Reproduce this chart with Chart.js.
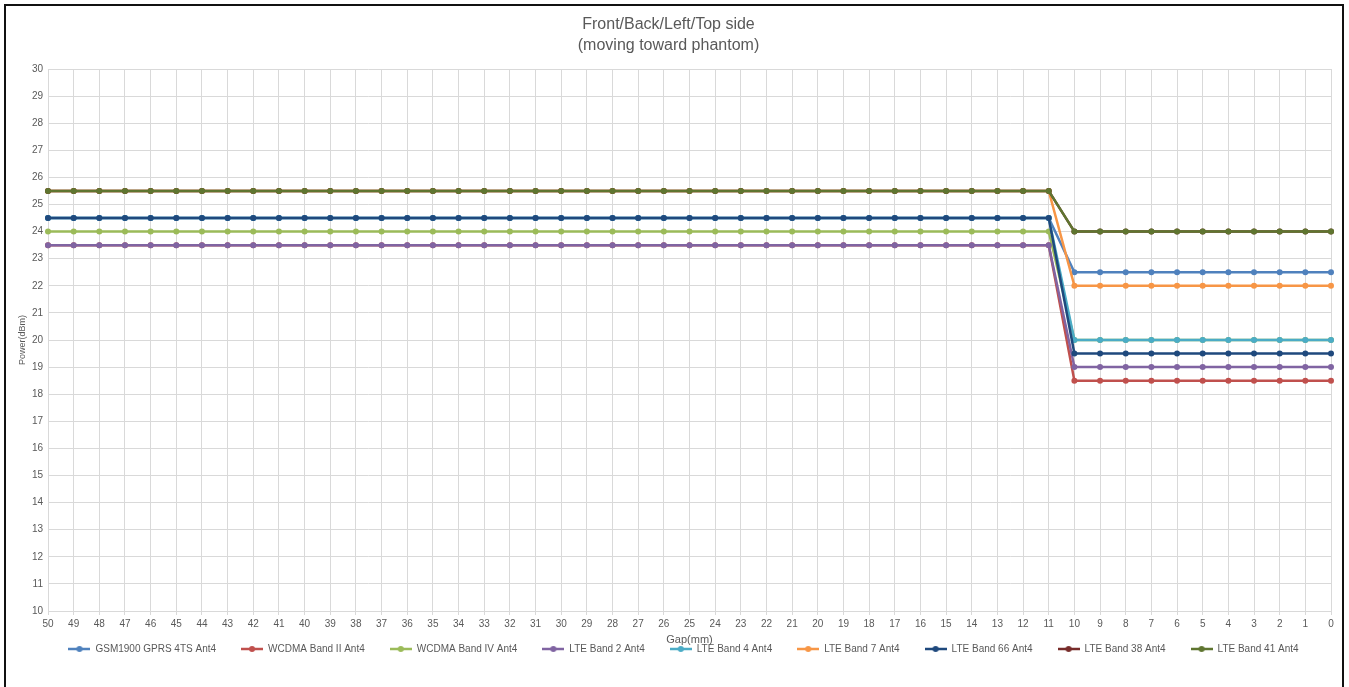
<!DOCTYPE html>
<html>
<head>
<meta charset="utf-8">
<script src="https://cdn.jsdelivr.net/npm/chart.js@4.4.1/dist/chart.umd.min.js"></script>
<style>
  html, body { margin: 0; padding: 0; background: #fff; }
  #frame {
    position: absolute; left: 4px; top: 4px;
    width: 1336px; height: 683px;
    border-left: 2px solid #111; border-top: 2px solid #111; border-right: 2px solid #111;
  }
  canvas { display: block; }
</style>
</head>
<body>
<div id="frame"><canvas id="powerChart" width="1336" height="681"></canvas></div>
<script>
const gapLabels = [
  "50", "49", "48", "47", "46", "45", "44", "43", "42", "41",
  "40", "39", "38", "37", "36", "35", "34", "33", "32", "31",
  "30", "29", "28", "27", "26", "25", "24", "23", "22", "21",
  "20", "19", "18", "17", "16", "15", "14", "13", "12", "11",
  "10", "9", "8", "7", "6", "5", "4", "3", "2", "1", "0",
];

const seriesNames = [
  "GSM1900 GPRS 4TS Ant4",
  "WCDMA Band II Ant4",
  "WCDMA Band IV Ant4",
  "LTE Band 2 Ant4",
  "LTE Band 4 Ant4",
  "LTE Band 7 Ant4",
  "LTE Band 66 Ant4",
  "LTE Band 38 Ant4",
  "LTE Band 41 Ant4",
];

const gsm1900Gprs = [
  24.5, 24.5, 24.5, 24.5, 24.5, 24.5, 24.5, 24.5, 24.5, 24.5,
  24.5, 24.5, 24.5, 24.5, 24.5, 24.5, 24.5, 24.5, 24.5, 24.5,
  24.5, 24.5, 24.5, 24.5, 24.5, 24.5, 24.5, 24.5, 24.5, 24.5,
  24.5, 24.5, 24.5, 24.5, 24.5, 24.5, 24.5, 24.5, 24.5, 24.5,
  22.5, 22.5, 22.5, 22.5, 22.5, 22.5, 22.5, 22.5, 22.5, 22.5, 22.5,
];
const wcdmaBand2 = [
  23.5, 23.5, 23.5, 23.5, 23.5, 23.5, 23.5, 23.5, 23.5, 23.5,
  23.5, 23.5, 23.5, 23.5, 23.5, 23.5, 23.5, 23.5, 23.5, 23.5,
  23.5, 23.5, 23.5, 23.5, 23.5, 23.5, 23.5, 23.5, 23.5, 23.5,
  23.5, 23.5, 23.5, 23.5, 23.5, 23.5, 23.5, 23.5, 23.5, 23.5,
  18.5, 18.5, 18.5, 18.5, 18.5, 18.5, 18.5, 18.5, 18.5, 18.5, 18.5,
];
const wcdmaBand4 = [
  24, 24, 24, 24, 24, 24, 24, 24, 24, 24,
  24, 24, 24, 24, 24, 24, 24, 24, 24, 24,
  24, 24, 24, 24, 24, 24, 24, 24, 24, 24,
  24, 24, 24, 24, 24, 24, 24, 24, 24, 24,
  20, 20, 20, 20, 20, 20, 20, 20, 20, 20, 20,
];
const lteBand2 = [
  23.5, 23.5, 23.5, 23.5, 23.5, 23.5, 23.5, 23.5, 23.5, 23.5,
  23.5, 23.5, 23.5, 23.5, 23.5, 23.5, 23.5, 23.5, 23.5, 23.5,
  23.5, 23.5, 23.5, 23.5, 23.5, 23.5, 23.5, 23.5, 23.5, 23.5,
  23.5, 23.5, 23.5, 23.5, 23.5, 23.5, 23.5, 23.5, 23.5, 23.5,
  19, 19, 19, 19, 19, 19, 19, 19, 19, 19, 19,
];
const lteBand4 = [
  24.5, 24.5, 24.5, 24.5, 24.5, 24.5, 24.5, 24.5, 24.5, 24.5,
  24.5, 24.5, 24.5, 24.5, 24.5, 24.5, 24.5, 24.5, 24.5, 24.5,
  24.5, 24.5, 24.5, 24.5, 24.5, 24.5, 24.5, 24.5, 24.5, 24.5,
  24.5, 24.5, 24.5, 24.5, 24.5, 24.5, 24.5, 24.5, 24.5, 24.5,
  20, 20, 20, 20, 20, 20, 20, 20, 20, 20, 20,
];
const lteBand7 = [
  25.5, 25.5, 25.5, 25.5, 25.5, 25.5, 25.5, 25.5, 25.5, 25.5,
  25.5, 25.5, 25.5, 25.5, 25.5, 25.5, 25.5, 25.5, 25.5, 25.5,
  25.5, 25.5, 25.5, 25.5, 25.5, 25.5, 25.5, 25.5, 25.5, 25.5,
  25.5, 25.5, 25.5, 25.5, 25.5, 25.5, 25.5, 25.5, 25.5, 25.5,
  22, 22, 22, 22, 22, 22, 22, 22, 22, 22, 22,
];
const lteBand66 = [
  24.5, 24.5, 24.5, 24.5, 24.5, 24.5, 24.5, 24.5, 24.5, 24.5,
  24.5, 24.5, 24.5, 24.5, 24.5, 24.5, 24.5, 24.5, 24.5, 24.5,
  24.5, 24.5, 24.5, 24.5, 24.5, 24.5, 24.5, 24.5, 24.5, 24.5,
  24.5, 24.5, 24.5, 24.5, 24.5, 24.5, 24.5, 24.5, 24.5, 24.5,
  19.5, 19.5, 19.5, 19.5, 19.5, 19.5, 19.5, 19.5, 19.5, 19.5, 19.5,
];
const lteBand38 = [
  25.5, 25.5, 25.5, 25.5, 25.5, 25.5, 25.5, 25.5, 25.5, 25.5,
  25.5, 25.5, 25.5, 25.5, 25.5, 25.5, 25.5, 25.5, 25.5, 25.5,
  25.5, 25.5, 25.5, 25.5, 25.5, 25.5, 25.5, 25.5, 25.5, 25.5,
  25.5, 25.5, 25.5, 25.5, 25.5, 25.5, 25.5, 25.5, 25.5, 25.5,
  24, 24, 24, 24, 24, 24, 24, 24, 24, 24, 24,
];
const lteBand41 = [
  25.5, 25.5, 25.5, 25.5, 25.5, 25.5, 25.5, 25.5, 25.5, 25.5,
  25.5, 25.5, 25.5, 25.5, 25.5, 25.5, 25.5, 25.5, 25.5, 25.5,
  25.5, 25.5, 25.5, 25.5, 25.5, 25.5, 25.5, 25.5, 25.5, 25.5,
  25.5, 25.5, 25.5, 25.5, 25.5, 25.5, 25.5, 25.5, 25.5, 25.5,
  24, 24, 24, 24, 24, 24, 24, 24, 24, 24, 24,
];

const seriesValues = [
  gsm1900Gprs, wcdmaBand2, wcdmaBand4, lteBand2, lteBand4,
  lteBand7, lteBand66, lteBand38, lteBand41,
];

const seriesColors = [
  "#4F81BD", "#C0504D", "#9BBB59", "#8064A2", "#4BACC6",
  "#F79646", "#1F497D", "#772C2A", "#5F7530",
];

const textColor = "#595959";
const gridColor = "#d9d9d9";
const fontFamily = "'Liberation Sans', Arial, sans-serif";

// small line-with-dot marker for each legend entry
function legendMarker(color) {
  const c = document.createElement("canvas");
  c.width = 22;
  c.height = 8;
  const g = c.getContext("2d");
  g.strokeStyle = color;
  g.lineWidth = 2.5;
  g.beginPath();
  g.moveTo(0, 4);
  g.lineTo(22, 4);
  g.stroke();
  g.fillStyle = color;
  g.beginPath();
  g.arc(11, 4, 3, 0, Math.PI * 2);
  g.fill();
  return c;
}
const markers = seriesColors.map(legendMarker);

// legend sits partly beside the x axis title, like the Excel original
const legendLayout = {
  id: "legendLayout",
  afterInit(chart) {
    const legend = chart.legend;
    const fit = legend.fit;
    legend.fit = function () {
      fit.call(this);
      this.height = 30;
    };
  },
  afterLayout(chart) {
    const legend = chart.legend;
    legend.top = 613;
    legend.height = 50;
    legend.bottom = legend.top + legend.height;
    legend.left += 15;
    legend.right += 15;
  },
};

const datasets = seriesNames.map((name, i) => ({
  label: name,
  data: seriesValues[i],
  borderColor: seriesColors[i],
  backgroundColor: seriesColors[i],
  pointBackgroundColor: seriesColors[i],
  pointBorderColor: seriesColors[i],
  borderWidth: 2.5,
  pointRadius: 3,
  pointBorderWidth: 0,
  tension: 0,
  order: seriesNames.length - i,
}));

new Chart(document.getElementById("powerChart"), {
  type: "line",
  data: { labels: gapLabels, datasets },
  plugins: [legendLayout],
  options: {
    responsive: false,
    animation: false,
    layout: { padding: { left: 0, right: 11, top: 0, bottom: 24 } },
    plugins: {
      title: {
        display: true,
        text: ["Front/Back/Left/Top side", "(moving toward phantom)"],
        color: textColor,
        font: { family: fontFamily, size: 16, weight: "normal", lineHeight: 1.3 },
        padding: { top: 8.6, bottom: 12.8 },
      },
      legend: {
        position: "bottom",
        labels: {
          color: textColor,
          font: { family: fontFamily, size: 10 },
          usePointStyle: true,
          pointStyleWidth: 22,
          padding: 25,
          sort: (a, b) => a.datasetIndex - b.datasetIndex,
          generateLabels(chart) {
            return Chart.defaults.plugins.legend.labels.generateLabels(chart).map((item) => ({
              ...item,
              pointStyle: markers[item.datasetIndex],
            }));
          },
        },
      },
      tooltip: { enabled: false },
    },
    scales: {
      x: {
        offset: false,
        grid: { color: gridColor, tickLength: 4 },
        border: { color: gridColor },
        ticks: {
          color: textColor,
          font: { family: fontFamily, size: 10 },
          padding: 3,
          maxRotation: 0,
          autoSkip: false,
        },
        title: {
          display: true,
          text: "Gap(mm)",
          color: textColor,
          font: { family: fontFamily, size: 11 },
          padding: { top: 0, bottom: -13.6 },
        },
        afterFit(scale) {
          scale.height = 22;
        },
      },
      y: {
        min: 10,
        max: 30,
        grid: { color: gridColor, drawTicks: false },
        border: { display: false },
        ticks: {
          stepSize: 1,
          color: textColor,
          font: { family: fontFamily, size: 10 },
          padding: 5,
        },
        title: {
          display: true,
          text: "Power(dBm)",
          color: textColor,
          font: { family: fontFamily, size: 9 },
          padding: { top: 11, bottom: 0 },
        },
        afterFit(scale) {
          scale.width = 42;
        },
      },
    },
  },
});
</script>
</body>
</html>
